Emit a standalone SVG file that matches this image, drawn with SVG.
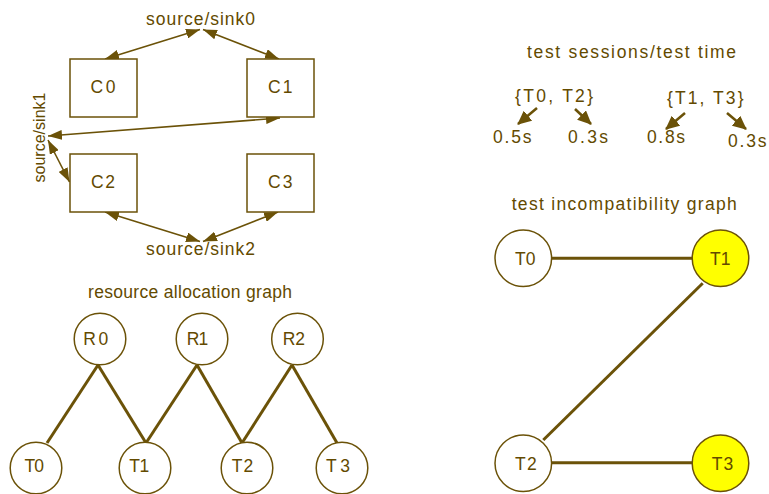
<svg xmlns="http://www.w3.org/2000/svg" width="769" height="494" viewBox="0 0 769 494">
<style>
text{font-family:"Liberation Sans",Arial,sans-serif;font-size:17.5px;fill:#634a00}
.box{fill:#fff;stroke:#6b5208;stroke-width:1.5}
.nd{fill:#fff;stroke:#6b5208;stroke-width:1.5}
.y{fill:#ffff00}
.ar{stroke:#6b5208;stroke-width:1.6;fill:none;marker-start:url(#ah);marker-end:url(#ah)}
.sa{stroke:#6b5208;stroke-width:2.6;fill:none;marker-end:url(#bh)}
.ed{stroke:#6b5208;stroke-width:3;fill:none}
</style>
<defs>
<marker id="ah" viewBox="0 0 14 10" refX="14" refY="5" markerWidth="14" markerHeight="10" markerUnits="userSpaceOnUse" orient="auto-start-reverse">
<path d="M0,0L14,5L0,10z" fill="#6b5208"/>
</marker>
<marker id="bh" viewBox="0 0 14 13" refX="13" refY="6.5" markerWidth="14" markerHeight="13" markerUnits="userSpaceOnUse" orient="auto">
<path d="M0,0L14,6.5L0,13z" fill="#6b5208"/>
</marker>
</defs>

<g id="connectors">
<line class="ar" x1="200" y1="29.5" x2="105" y2="59"/>
<line class="ar" x1="203" y1="29.5" x2="279" y2="59"/>
<line class="ar" x1="280" y1="118" x2="48" y2="136"/>
<line class="ar" x1="48" y1="140" x2="69.5" y2="182"/>
<line class="ar" x1="105" y1="212" x2="200" y2="241.5"/>
<line class="ar" x1="278" y1="212" x2="203" y2="241.5"/>
<line class="sa" x1="537" y1="108" x2="518" y2="124"/>
<line class="sa" x1="575" y1="109" x2="591" y2="124"/>
<line class="sa" x1="685" y1="113" x2="666" y2="129"/>
<line class="sa" x1="727" y1="113" x2="746" y2="129"/>
<line class="ed" x1="98" y1="365" x2="47" y2="443"/>
<line class="ed" x1="98" y1="365" x2="146" y2="443"/>
<line class="ed" x1="197" y1="365" x2="146" y2="443"/>
<line class="ed" x1="197" y1="365" x2="242" y2="443"/>
<line class="ed" x1="292" y1="365" x2="242" y2="443"/>
<line class="ed" x1="292" y1="365" x2="337" y2="443"/>
<line class="ed" x1="552" y1="258.3" x2="692" y2="258.3"/>
<line class="ed" x1="702.7" y1="283.3" x2="543.3" y2="440"/>
<line class="ed" x1="552" y1="462.7" x2="692" y2="462.7"/>
</g>

<g id="labels">
<text x="146" y="25" textLength="109" lengthAdjust="spacing">source/sink0</text>
<text x="146" y="255" textLength="109" lengthAdjust="spacing">source/sink2</text>
<text transform="translate(44.5,137.5) rotate(-90)" text-anchor="middle" style="font-size:16px" textLength="90" lengthAdjust="spacing">source/sink1</text>
<text x="527" y="57.5" textLength="209" lengthAdjust="spacing">test sessions/test time</text>
<text x="515" y="101.5" textLength="78" lengthAdjust="spacing">{T0, T2}</text>
<text x="667" y="104" textLength="76.5" lengthAdjust="spacing">{T1, T3}</text>
<text x="493" y="143.3" textLength="38.5" lengthAdjust="spacing">0.5s</text>
<text x="568" y="143.3" textLength="40" lengthAdjust="spacing">0.3s</text>
<text x="647" y="143.3" textLength="38" lengthAdjust="spacing">0.8s</text>
<text x="728" y="146.7" textLength="38.5" lengthAdjust="spacing">0.3s</text>
<text x="88" y="298.3" textLength="204" lengthAdjust="spacing">resource allocation graph</text>
<text x="511.7" y="210" textLength="225" lengthAdjust="spacing">test incompatibility graph</text>
</g>

<g id="C0"><rect class="box" x="70" y="59" width="67" height="58"/><text x="90.5" y="92.5" textLength="25" lengthAdjust="spacing">C0</text></g>
<g id="C1"><rect class="box" x="247" y="59" width="67" height="58"/><text x="268" y="92.5" textLength="24.5" lengthAdjust="spacing">C1</text></g>
<g id="C2"><rect class="box" x="70" y="154" width="67" height="58"/><text x="91" y="188.3" textLength="24" lengthAdjust="spacing">C2</text></g>
<g id="C3"><rect class="box" x="247" y="154" width="67" height="58"/><text x="268" y="188.3" textLength="24.5" lengthAdjust="spacing">C3</text></g>

<g id="R0"><circle class="nd" cx="100" cy="339" r="25.8"/><text x="83.3" y="345" textLength="25" lengthAdjust="spacing">R0</text></g>
<g id="R1"><circle class="nd" cx="202" cy="339" r="25.8"/><text x="186.7" y="345" textLength="21.6" lengthAdjust="spacing">R1</text></g>
<g id="R2"><circle class="nd" cx="297.5" cy="339" r="25.8"/><text x="282.7" y="345" textLength="22.3" lengthAdjust="spacing">R2</text></g>
<g id="rT0"><circle class="nd" cx="36" cy="468" r="25.8"/><text x="24.5" y="472.3" textLength="19.5" lengthAdjust="spacing">T0</text></g>
<g id="rT1"><circle class="nd" cx="145" cy="468" r="25.8"/><text x="129.3" y="472.3" textLength="20" lengthAdjust="spacing">T1</text></g>
<g id="rT2"><circle class="nd" cx="247" cy="468" r="25.8"/><text x="231.7" y="472.3" textLength="21.6" lengthAdjust="spacing">T2</text></g>
<g id="rT3"><circle class="nd" cx="342" cy="468" r="25.8"/><text x="326" y="472.3" textLength="24" lengthAdjust="spacing">T3</text></g>

<g id="iT0"><circle class="nd" cx="523.3" cy="258.3" r="28.3"/><text x="515" y="265" textLength="20.5" lengthAdjust="spacing">T0</text></g>
<g id="iT1"><circle class="nd y" cx="720.5" cy="258.3" r="28.3"/><text x="710" y="265" textLength="20.5" lengthAdjust="spacing">T1</text></g>
<g id="iT2"><circle class="nd" cx="523.3" cy="463.3" r="28.3"/><text x="515" y="470" textLength="21.7" lengthAdjust="spacing">T2</text></g>
<g id="iT3"><circle class="nd y" cx="720.5" cy="463.3" r="28.3"/><text x="711.7" y="470" textLength="21.6" lengthAdjust="spacing">T3</text></g>
</svg>
